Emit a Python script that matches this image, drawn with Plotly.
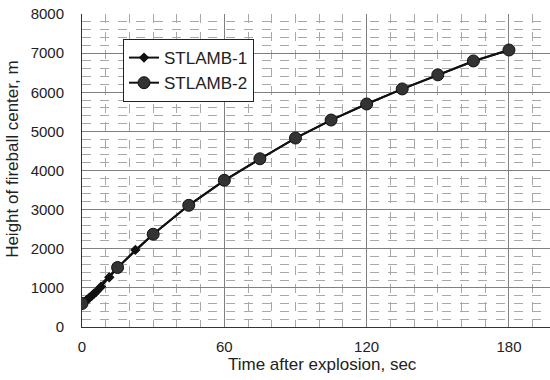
import plotly.graph_objects as go

# STLAMB-1 (small diamonds)
t1 = [0, 1, 2, 3, 4, 5, 6, 8, 11.5, 15, 22.5, 30, 45, 60, 75, 90, 105, 120, 135, 150, 165, 180]
h1 = [600, 640, 690, 740, 790, 850, 900, 1030, 1270, 1510, 1970, 2370, 3110, 3740, 4300, 4830,
      5290, 5700, 6080, 6440, 6790, 7080]

# STLAMB-2 (large circles)
t2 = [0, 15, 30, 45, 60, 75, 90, 105, 120, 135, 150, 165, 180]
h2 = [600, 1520, 2370, 3110, 3750, 4300, 4830, 5290, 5700, 6085, 6445, 6800, 7080]

x_ticks = [0, 60, 120, 180]
y_ticks = [0, 1000, 2000, 3000, 4000, 5000, 6000, 7000, 8000]

FONT = "Arial, Liberation Sans, sans-serif"

fig = go.Figure()
fig.add_trace(go.Scatter(
    x=t1, y=h1, name="STLAMB-1", mode="lines+markers",
    line=dict(color="#111111", width=2),
    marker=dict(symbol="diamond", size=8, color="#111111"),
))
fig.add_trace(go.Scatter(
    x=t2, y=h2, name="STLAMB-2", mode="lines+markers",
    line=dict(color="#111111", width=2),
    marker=dict(symbol="circle", size=12, color="#333333",
                line=dict(color="#111111", width=1)),
))

axis_common = dict(
    showline=True, linecolor="#333333", linewidth=1, mirror=False,
    showgrid=True, gridcolor="#808080", gridwidth=1,
    zeroline=False,
    tickfont=dict(family=FONT, size=15, color="#222222"),
    ticks="outside", ticklen=0, tickcolor="rgba(0,0,0,0)",
)

fig.update_xaxes(
    range=[0, 197.3], tickvals=x_ticks,
    minor=dict(dtick=10, tick0=0, showgrid=True, gridcolor="#a8a8a8",
               griddash="dash", gridwidth=1),
    ticklabelstandoff=6,
    **axis_common,
)
fig.update_yaxes(
    range=[0, 8000], tickvals=y_ticks,
    minor=dict(dtick=200, tick0=0, showgrid=True, gridcolor="#a8a8a8",
               griddash="dash", gridwidth=1),
    ticklabelstandoff=14,
    **axis_common,
)

fig.update_layout(
    width=550, height=380,
    margin=dict(l=82, r=0, t=14, b=53),
    paper_bgcolor="white", plot_bgcolor="white",
    font=dict(family=FONT, color="#222222"),
    showlegend=True,
    legend=dict(
        x=0.0876, y=0.92, xanchor="left", yanchor="top",
        bgcolor="white", bordercolor="#222222", borderwidth=1,
        font=dict(family=FONT, size=17, color="#222222"),
        itemwidth=30, tracegroupgap=0,
    ),
    annotations=[
        dict(text="Time after explosion, sec", xref="paper", yref="paper",
             x=0.514, y=0, xanchor="center", yanchor="middle", yshift=-37,
             showarrow=False, font=dict(family=FONT, size=17, color="#222222")),
        dict(text="Height of fireball center, m", xref="paper", yref="paper",
             x=0, y=0.534, xanchor="center", yanchor="middle", xshift=-69,
             textangle=-90, showarrow=False,
             font=dict(family=FONT, size=17, color="#222222")),
    ],
)

fig.write_html("out.html", config={"displayModeBar": False},
               post_script="document.body.style.margin='0';")
